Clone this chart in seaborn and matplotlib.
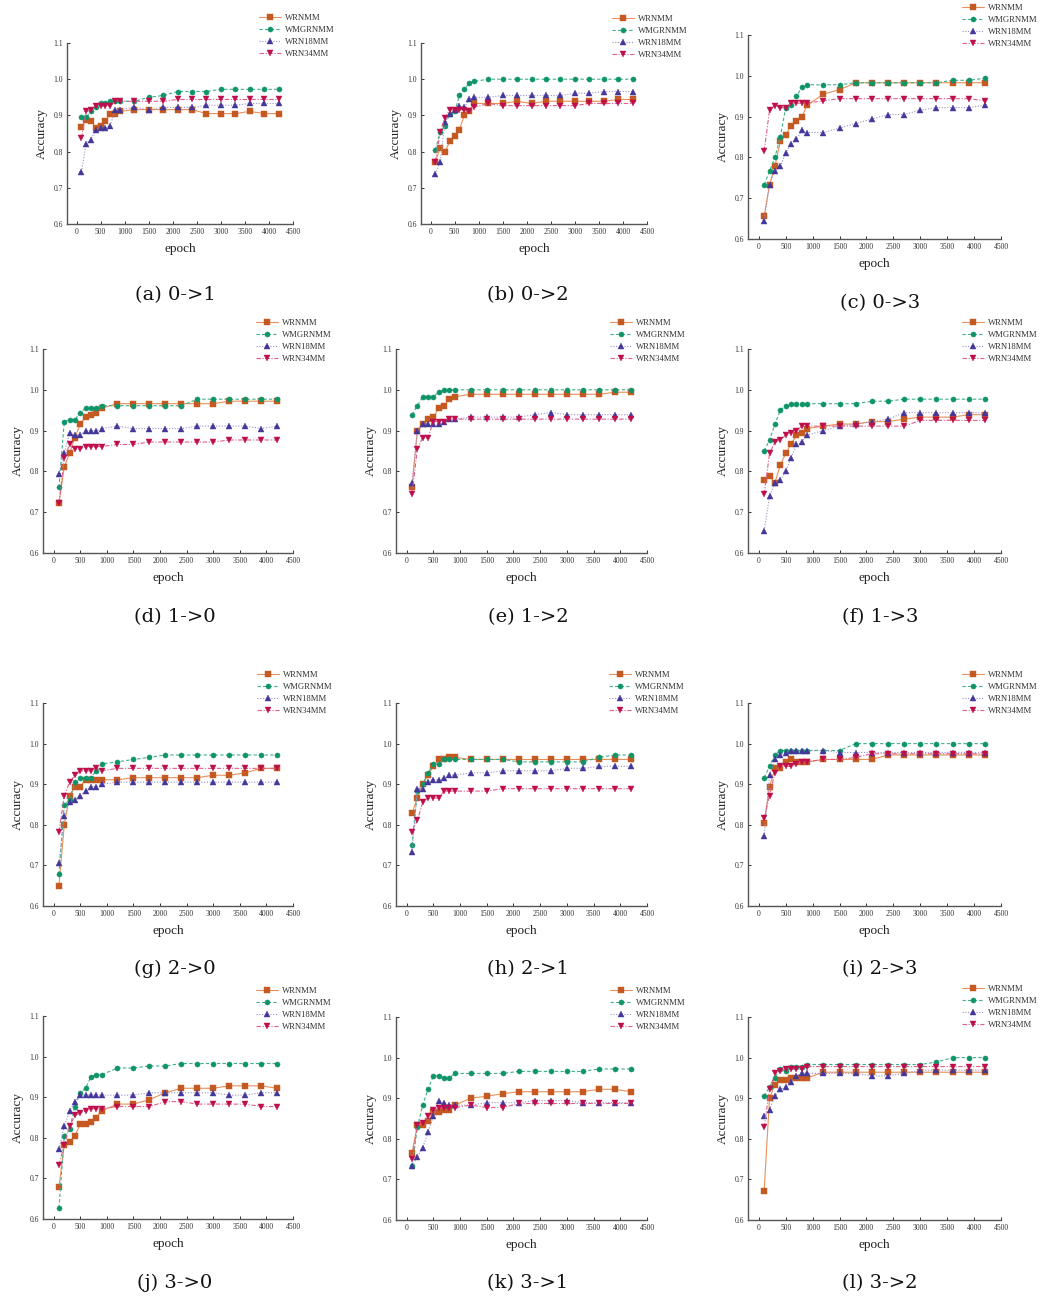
import matplotlib
matplotlib.use("Agg")
import matplotlib.pyplot as plt
import seaborn as sns
import pandas as pd

sns.set_theme(style="white")
plt.rcParams['font.family'] = ['Liberation Serif', 'DejaVu Serif']

EPOCHS = [100, 200, 300, 400, 500, 600, 700, 800, 900, 1200, 1500, 1800,
          2100, 2400, 2700, 3000, 3300, 3600, 3900, 4200]
SERIES = ["WRNMM", "WMGRNMM", "WRN18MM", "WRN34MM"]
CAPTIONS = ["(a) 0->1", "(b) 0->2", "(c) 0->3", "(d) 1->0", "(e) 1->2", "(f) 1->3",
            "(g) 2->0", "(h) 2->1", "(i) 2->3", "(j) 3->0", "(k) 3->1", "(l) 3->2"]
X_TICKS = [0, 500, 1000, 1500, 2000, 2500, 3000, 3500, 4000, 4500]
Y_TICKS = [0.6, 0.7, 0.8, 0.9, 1.0, 1.1]

# (a) 0->1
wrnmm_a = [0.867, 0.888, 0.884, 0.866, 0.872, 0.884, 0.905, 0.905, 0.911, 0.916, 0.916, 0.916, 0.916, 0.916, 0.905, 0.905, 0.905, 0.911, 0.905, 0.905]
wmgrnmm_a = [0.895, 0.895, 0.911, 0.922, 0.933, 0.933, 0.939, 0.939, 0.939, 0.939, 0.950, 0.955, 0.966, 0.966, 0.966, 0.972, 0.972, 0.972, 0.972, 0.972]
wrn18_a = [0.744, 0.822, 0.833, 0.861, 0.866, 0.866, 0.872, 0.916, 0.916, 0.922, 0.916, 0.922, 0.922, 0.922, 0.928, 0.928, 0.928, 0.933, 0.933, 0.933]
wrn34_a = [0.838, 0.911, 0.916, 0.927, 0.927, 0.927, 0.927, 0.939, 0.939, 0.939, 0.939, 0.939, 0.944, 0.944, 0.944, 0.944, 0.944, 0.944, 0.944, 0.944]
# (b) 0->2
wrnmm_b = [0.772, 0.811, 0.800, 0.828, 0.844, 0.861, 0.900, 0.911, 0.933, 0.933, 0.933, 0.939, 0.933, 0.939, 0.939, 0.939, 0.939, 0.939, 0.944, 0.944]
wmgrnmm_b = [0.805, 0.855, 0.872, 0.905, 0.911, 0.955, 0.972, 0.989, 0.994, 1.0, 1.0, 1.0, 1.0, 1.0, 1.0, 1.0, 1.0, 1.0, 1.0, 1.0]
wrn18_b = [0.738, 0.772, 0.883, 0.905, 0.916, 0.927, 0.922, 0.944, 0.950, 0.950, 0.955, 0.955, 0.955, 0.955, 0.955, 0.961, 0.961, 0.966, 0.966, 0.966]
wrn34_b = [0.772, 0.855, 0.894, 0.916, 0.916, 0.916, 0.916, 0.911, 0.922, 0.933, 0.927, 0.927, 0.927, 0.927, 0.927, 0.927, 0.933, 0.933, 0.933, 0.933]
# (c) 0->3
wrnmm_c = [0.656, 0.733, 0.778, 0.839, 0.855, 0.878, 0.889, 0.900, 0.928, 0.955, 0.966, 0.983, 0.983, 0.983, 0.983, 0.983, 0.983, 0.983, 0.983, 0.983]
wmgrnmm_c = [0.733, 0.766, 0.800, 0.850, 0.922, 0.928, 0.950, 0.972, 0.978, 0.978, 0.978, 0.983, 0.983, 0.983, 0.983, 0.983, 0.983, 0.989, 0.989, 0.994]
wrn18_c = [0.644, 0.733, 0.766, 0.778, 0.811, 0.833, 0.844, 0.866, 0.861, 0.861, 0.872, 0.883, 0.894, 0.905, 0.905, 0.916, 0.922, 0.922, 0.922, 0.928]
wrn34_c = [0.816, 0.916, 0.927, 0.922, 0.922, 0.933, 0.933, 0.933, 0.933, 0.939, 0.944, 0.944, 0.944, 0.944, 0.944, 0.944, 0.944, 0.944, 0.944, 0.939]
# (d) 1->0
wrnmm_d = [0.722, 0.811, 0.844, 0.883, 0.916, 0.933, 0.939, 0.944, 0.955, 0.966, 0.966, 0.966, 0.966, 0.966, 0.966, 0.966, 0.972, 0.972, 0.972, 0.972]
wmgrnmm_d = [0.761, 0.922, 0.927, 0.927, 0.944, 0.955, 0.955, 0.955, 0.961, 0.961, 0.961, 0.961, 0.961, 0.961, 0.977, 0.977, 0.977, 0.977, 0.977, 0.977]
wrn18_d = [0.794, 0.844, 0.894, 0.889, 0.889, 0.900, 0.900, 0.900, 0.905, 0.911, 0.905, 0.905, 0.905, 0.905, 0.911, 0.911, 0.911, 0.911, 0.905, 0.911]
wrn34_d = [0.722, 0.833, 0.866, 0.855, 0.855, 0.861, 0.861, 0.861, 0.861, 0.866, 0.866, 0.872, 0.872, 0.872, 0.872, 0.872, 0.877, 0.877, 0.877, 0.877]
# (e) 1->2
wrnmm_e = [0.761, 0.900, 0.916, 0.928, 0.933, 0.955, 0.961, 0.978, 0.983, 0.989, 0.989, 0.989, 0.989, 0.989, 0.989, 0.989, 0.989, 0.989, 0.994, 0.994]
wmgrnmm_e = [0.939, 0.961, 0.983, 0.983, 0.983, 0.994, 1.0, 1.0, 1.0, 1.0, 1.0, 1.0, 1.0, 1.0, 1.0, 1.0, 1.0, 1.0, 1.0, 1.0]
wrn18_e = [0.772, 0.900, 0.916, 0.916, 0.916, 0.916, 0.922, 0.928, 0.928, 0.933, 0.933, 0.933, 0.933, 0.939, 0.944, 0.939, 0.939, 0.939, 0.939, 0.939]
wrn34_e = [0.744, 0.855, 0.883, 0.883, 0.922, 0.922, 0.922, 0.928, 0.928, 0.928, 0.928, 0.928, 0.928, 0.928, 0.928, 0.928, 0.928, 0.928, 0.928, 0.928]
# (f) 1->3
wrnmm_f = [0.778, 0.789, 0.772, 0.816, 0.844, 0.866, 0.889, 0.894, 0.905, 0.911, 0.916, 0.916, 0.922, 0.922, 0.928, 0.933, 0.933, 0.933, 0.939, 0.939]
wmgrnmm_f = [0.850, 0.877, 0.916, 0.950, 0.961, 0.966, 0.966, 0.966, 0.966, 0.966, 0.966, 0.966, 0.972, 0.972, 0.977, 0.977, 0.977, 0.977, 0.977, 0.977]
wrn18_f = [0.655, 0.739, 0.772, 0.778, 0.800, 0.833, 0.866, 0.872, 0.889, 0.900, 0.911, 0.916, 0.922, 0.928, 0.944, 0.944, 0.944, 0.944, 0.944, 0.944]
wrn34_f = [0.744, 0.844, 0.872, 0.877, 0.889, 0.894, 0.900, 0.911, 0.911, 0.911, 0.911, 0.911, 0.911, 0.911, 0.911, 0.925, 0.925, 0.925, 0.925, 0.925]
# (g) 2->0
wrnmm_g = [0.650, 0.800, 0.872, 0.894, 0.894, 0.911, 0.911, 0.911, 0.911, 0.911, 0.916, 0.916, 0.916, 0.916, 0.916, 0.922, 0.922, 0.928, 0.939, 0.939]
wmgrnmm_g = [0.678, 0.850, 0.861, 0.905, 0.916, 0.916, 0.916, 0.933, 0.950, 0.955, 0.961, 0.966, 0.972, 0.972, 0.972, 0.972, 0.972, 0.972, 0.972, 0.972]
wrn18_g = [0.705, 0.822, 0.855, 0.861, 0.872, 0.883, 0.894, 0.894, 0.900, 0.905, 0.905, 0.905, 0.905, 0.905, 0.905, 0.905, 0.905, 0.905, 0.905, 0.905]
wrn34_g = [0.783, 0.872, 0.905, 0.922, 0.933, 0.933, 0.933, 0.939, 0.933, 0.939, 0.939, 0.939, 0.939, 0.939, 0.939, 0.939, 0.939, 0.939, 0.939, 0.939]
# (h) 2->1
wrnmm_h = [0.828, 0.866, 0.900, 0.922, 0.944, 0.961, 0.961, 0.966, 0.966, 0.961, 0.961, 0.961, 0.961, 0.961, 0.961, 0.961, 0.961, 0.961, 0.961, 0.961]
wmgrnmm_h = [0.750, 0.883, 0.900, 0.928, 0.950, 0.950, 0.961, 0.961, 0.961, 0.961, 0.961, 0.961, 0.955, 0.955, 0.955, 0.955, 0.955, 0.966, 0.972, 0.972]
wrn18_h = [0.733, 0.889, 0.889, 0.905, 0.911, 0.911, 0.916, 0.922, 0.922, 0.928, 0.928, 0.933, 0.933, 0.933, 0.933, 0.939, 0.939, 0.944, 0.944, 0.944]
wrn34_h = [0.783, 0.811, 0.855, 0.866, 0.866, 0.866, 0.883, 0.883, 0.883, 0.883, 0.883, 0.889, 0.889, 0.889, 0.889, 0.889, 0.889, 0.889, 0.889, 0.889]
# (i) 2->3
wrnmm_i = [0.805, 0.894, 0.939, 0.939, 0.955, 0.961, 0.955, 0.955, 0.955, 0.961, 0.961, 0.961, 0.961, 0.972, 0.972, 0.972, 0.972, 0.972, 0.972, 0.972]
wmgrnmm_i = [0.916, 0.944, 0.972, 0.983, 0.983, 0.983, 0.983, 0.983, 0.983, 0.983, 0.983, 1.0, 1.0, 1.0, 1.0, 1.0, 1.0, 1.0, 1.0, 1.0]
wrn18_i = [0.772, 0.922, 0.961, 0.972, 0.978, 0.983, 0.983, 0.983, 0.983, 0.983, 0.978, 0.978, 0.978, 0.978, 0.978, 0.978, 0.978, 0.978, 0.978, 0.978]
wrn34_i = [0.816, 0.872, 0.928, 0.944, 0.944, 0.944, 0.950, 0.955, 0.955, 0.961, 0.961, 0.966, 0.975, 0.975, 0.975, 0.975, 0.975, 0.975, 0.975, 0.975]
# (j) 3->0
wrnmm_j = [0.678, 0.783, 0.789, 0.805, 0.833, 0.833, 0.839, 0.850, 0.866, 0.883, 0.883, 0.894, 0.911, 0.922, 0.922, 0.922, 0.928, 0.928, 0.928, 0.922]
wmgrnmm_j = [0.627, 0.805, 0.822, 0.877, 0.911, 0.922, 0.950, 0.955, 0.955, 0.972, 0.972, 0.977, 0.977, 0.983, 0.983, 0.983, 0.983, 0.983, 0.983, 0.983]
wrn18_j = [0.772, 0.828, 0.866, 0.889, 0.905, 0.905, 0.905, 0.905, 0.905, 0.905, 0.905, 0.911, 0.911, 0.911, 0.911, 0.911, 0.905, 0.905, 0.911, 0.911]
wrn34_j = [0.733, 0.783, 0.828, 0.855, 0.861, 0.866, 0.872, 0.872, 0.872, 0.877, 0.877, 0.877, 0.889, 0.889, 0.883, 0.883, 0.883, 0.883, 0.877, 0.877]
# (k) 3->1
wrnmm_k = [0.766, 0.833, 0.833, 0.844, 0.866, 0.866, 0.872, 0.872, 0.883, 0.900, 0.905, 0.911, 0.916, 0.916, 0.916, 0.916, 0.916, 0.922, 0.922, 0.916]
wmgrnmm_k = [0.733, 0.828, 0.883, 0.922, 0.955, 0.955, 0.950, 0.950, 0.961, 0.961, 0.961, 0.961, 0.966, 0.966, 0.966, 0.966, 0.966, 0.972, 0.972, 0.972]
wrn18_k = [0.733, 0.755, 0.778, 0.816, 0.855, 0.894, 0.889, 0.883, 0.883, 0.883, 0.889, 0.889, 0.889, 0.894, 0.894, 0.894, 0.889, 0.889, 0.889, 0.889]
wrn34_k = [0.750, 0.833, 0.839, 0.855, 0.872, 0.877, 0.877, 0.877, 0.877, 0.883, 0.877, 0.877, 0.887, 0.887, 0.887, 0.887, 0.887, 0.887, 0.887, 0.887]
# (l) 3->2
wrnmm_l = [0.672, 0.900, 0.933, 0.944, 0.944, 0.950, 0.950, 0.950, 0.950, 0.964, 0.964, 0.964, 0.964, 0.964, 0.964, 0.964, 0.964, 0.964, 0.964, 0.964]
wmgrnmm_l = [0.905, 0.928, 0.950, 0.972, 0.966, 0.978, 0.978, 0.978, 0.983, 0.983, 0.983, 0.983, 0.983, 0.983, 0.983, 0.983, 0.989, 1.0, 1.0, 1.0]
wrn18_l = [0.855, 0.872, 0.905, 0.922, 0.928, 0.939, 0.955, 0.961, 0.961, 0.961, 0.961, 0.961, 0.955, 0.955, 0.961, 0.969, 0.969, 0.969, 0.969, 0.969]
wrn34_l = [0.828, 0.922, 0.961, 0.966, 0.972, 0.972, 0.972, 0.972, 0.978, 0.978, 0.978, 0.978, 0.978, 0.978, 0.978, 0.978, 0.978, 0.978, 0.978, 0.978]

PANEL_DATA = [
    (wrnmm_a, wmgrnmm_a, wrn18_a, wrn34_a), (wrnmm_b, wmgrnmm_b, wrn18_b, wrn34_b),
    (wrnmm_c, wmgrnmm_c, wrn18_c, wrn34_c), (wrnmm_d, wmgrnmm_d, wrn18_d, wrn34_d),
    (wrnmm_e, wmgrnmm_e, wrn18_e, wrn34_e), (wrnmm_f, wmgrnmm_f, wrn18_f, wrn34_f),
    (wrnmm_g, wmgrnmm_g, wrn18_g, wrn34_g), (wrnmm_h, wmgrnmm_h, wrn18_h, wrn34_h),
    (wrnmm_i, wmgrnmm_i, wrn18_i, wrn34_i), (wrnmm_j, wmgrnmm_j, wrn18_j, wrn34_j),
    (wrnmm_k, wmgrnmm_k, wrn18_k, wrn34_k), (wrnmm_l, wmgrnmm_l, wrn18_l, wrn34_l),
]

W, H = 1046, 1299
# axes boxes in pixels: left, top, right, bottom
AX_BOX = [
    (67, 43, 293, 224), (421, 43, 647, 224), (748, 35, 1001, 239),
    (43, 349, 293, 553), (396, 349, 647, 553), (748, 349, 1001, 553),
    (43, 703, 293, 906), (396, 703, 647, 906), (748, 703, 1001, 906),
    (43, 1016, 293, 1219), (396, 1017, 647, 1220), (748, 1017, 1001, 1220),
]
LEG_POS = [(259, 14), (612, 15), (962, 4), (256, 319), (610, 319), (962, 319),
           (257, 671), (609, 671), (962, 671), (256, 987), (610, 987), (962, 985)]
CAP_POS = [(175, 295), (528, 295), (880, 303), (175, 617), (528, 617), (880, 617),
           (175, 969), (528, 969), (880, 969), (175, 1283), (528, 1283), (880, 1283)]

STYLE = {
    "WRNMM": dict(line="#E8915A", mk="#C45A22", marker="s", ls="-"),
    "WMGRNMM": dict(line="#3FB08A", mk="#0F9468", marker="o", ls=(0, (3, 2))),
    "WRN18MM": dict(line="#9A8FD0", mk="#43389A", marker="^", ls=(0, (1, 1.5))),
    "WRN34MM": dict(line="#E0608A", mk="#BE0E4C", marker="v", ls=(0, (4, 1.5, 1, 1.5))),
}

fig = plt.figure(figsize=(W / 100, H / 100), dpi=100)
for idx in range(12):
    l, t, r, b = AX_BOX[idx]
    ax = fig.add_axes([l / W, 1 - b / H, (r - l) / W, (b - t) / H])
    ax.set_facecolor("white")
    for name, vals in zip(SERIES, PANEL_DATA[idx]):
        st = STYLE[name]
        df = pd.DataFrame({"epoch": EPOCHS, "Accuracy": vals})
        sns.lineplot(data=df, x="epoch", y="Accuracy", ax=ax, color=st["line"],
                     linestyle=st["ls"], linewidth=0.8, marker=st["marker"],
                     markersize=3.7, markerfacecolor=st["mk"], markeredgecolor=st["mk"],
                     markeredgewidth=0.3, label=name)
    ax.set_xlim(-200, 4500)
    ax.set_ylim(0.6, 1.1)
    ax.set_xticks(X_TICKS)
    ax.set_yticks(Y_TICKS)
    ax.set_yticklabels([f"{v:.1f}" for v in Y_TICKS])
    ax.tick_params(axis="both", labelsize=5.5, colors="#333333", direction="in",
                   length=2.5, width=0.7, pad=3, left=True, bottom=True)
    for s in ["top", "right"]:
        ax.spines[s].set_visible(False)
    for s in ["left", "bottom"]:
        ax.spines[s].set_color("#555555")
        ax.spines[s].set_linewidth(1.0)
    ax.set_xlabel("epoch", fontsize=9.5, color="#222222", labelpad=5)
    ax.set_ylabel("Accuracy", fontsize=9.5, color="#222222", labelpad=4)
    lx, ly = LEG_POS[idx]
    ax.legend(loc="upper left", bbox_to_anchor=(lx / W, 1 - ly / H),
              bbox_transform=fig.transFigure, frameon=False, fontsize=6.2,
              borderpad=0, borderaxespad=0, handlelength=2.6, handletextpad=0.4,
              labelspacing=0.45, labelcolor="#333333", numpoints=1)
    cx, cy = CAP_POS[idx]
    fig.text(cx / W, 1 - cy / H, CAPTIONS[idx], ha="center", va="center",
             fontsize=14, color="#111111", family=["DejaVu Serif"])

fig.savefig("out.png", dpi=100, facecolor="white")
